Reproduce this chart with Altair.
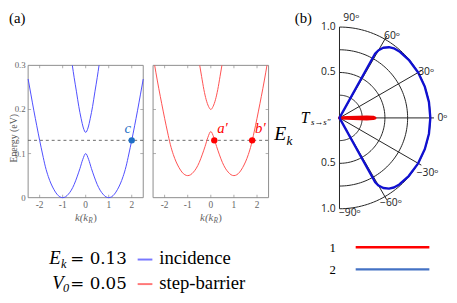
import altair as alt
import pandas as pd

# ---------------- data ----------------
k_band = [-2.5, -2.375, -2.25, -2.125, -2.0, -1.875, -1.75, -1.625, -1.5, -1.375, -1.25,
          -1.125, -1.0, -0.875, -0.75, -0.625, -0.5, -0.375, -0.25, -0.125, 0.0,
          0.125, 0.25, 0.375, 0.5, 0.625, 0.75, 0.875, 1.0, 1.125, 1.25, 1.375, 1.5,
          1.625, 1.75, 1.875, 2.0, 2.125, 2.25, 2.375, 2.5]
inc_lower = [0.269, 0.233, 0.197, 0.163, 0.130, 0.099, 0.070, 0.048, 0.031, 0.018, 0.008,
             0.002, 0.000, 0.002, 0.008, 0.017, 0.030, 0.047, 0.066, 0.087, 0.100,
             0.087, 0.066, 0.047, 0.030, 0.017, 0.008, 0.002, 0.000, 0.002, 0.008, 0.018,
             0.031, 0.048, 0.070, 0.099, 0.130, 0.163, 0.197, 0.233, 0.269]
k_inc_upper = [-0.58, -0.5, -0.4, -0.3, -0.2, -0.1, 0.0, 0.1, 0.2, 0.3, 0.4, 0.5, 0.58]
inc_upper = [0.300, 0.272, 0.240, 0.207, 0.180, 0.158, 0.148, 0.158, 0.180, 0.207, 0.240, 0.272, 0.300]

k_bar_lower = [-2.43, -2.375, -2.25, -2.125, -2.0, -1.875, -1.75, -1.625, -1.5, -1.375, -1.25,
               -1.125, -1.0, -0.875, -0.75, -0.625, -0.5, -0.375, -0.25, -0.125, 0.0,
               0.125, 0.25, 0.375, 0.5, 0.625, 0.75, 0.875, 1.0, 1.125, 1.25, 1.375, 1.5,
               1.625, 1.75, 1.875, 2.0, 2.125, 2.25, 2.375, 2.43]
bar_lower = [0.300, 0.283, 0.247, 0.213, 0.180, 0.149, 0.120, 0.098, 0.081, 0.068, 0.058,
             0.052, 0.050, 0.052, 0.058, 0.067, 0.080, 0.097, 0.116, 0.137, 0.150,
             0.137, 0.116, 0.097, 0.080, 0.067, 0.058, 0.052, 0.050, 0.052, 0.058, 0.068,
             0.081, 0.098, 0.120, 0.149, 0.180, 0.213, 0.247, 0.283, 0.300]
k_bar_upper = [-0.48, -0.4, -0.3, -0.2, -0.1, 0.0, 0.1, 0.2, 0.3, 0.4, 0.48]
bar_upper = [0.300, 0.275, 0.245, 0.222, 0.207, 0.200, 0.207, 0.222, 0.245, 0.275, 0.300]

E_k = 0.13
k_domain = [-2.5, 2.5]
e_domain = [0.0, 0.3]
k_ticks = [-2, -1, 0, 1, 2]
k_tick_labels = ["-2", "-1", "0", "1", "2"]
e_ticks = [0.0, 0.1, 0.2, 0.3]
e_tick_labels = ["0", "0.1", "0.2", "0.3"]
c_state_k = [2.0]
c_state_label = ["c"]
ab_states_k = [0.15, 1.79]
ab_state_labels = ["a\u2032", "b\u2032"]

# polar transmission
theta_1 = [-3, -2, -1, 0, 1, 2, 3]
r_1 = [0.0, 0.30, 0.37, 0.39, 0.37, 0.30, 0.0]
theta_2 = [-61.5, -61, -60, -58, -55, -52, -48, -40, -30, -20, -10, 0,
           10, 20, 30, 40, 48, 52, 55, 58, 60, 61, 61.5]
r_2 = [0.0, 0.81, 0.86, 0.91, 0.95, 0.972, 0.985, 0.995, 1.0, 1.0, 1.0, 1.0,
       1.0, 1.0, 1.0, 0.995, 0.985, 0.972, 0.95, 0.91, 0.86, 0.81, 0.0]
rings = [0.25, 0.5, 0.75, 1.0]
spoke_angles = [-60, -30, 0, 30, 60]
angle_label_vals = [90, 60, 30, 0, -30, -60, -90]
angle_label_txt = ["90\u1d52", "60\u1d52", "30\u1d52", "0\u1d52", "\u221230\u1d52", "\u221260\u1d52", "\u221290\u1d52"]
radial_label_pos = [1.0, 0.5, -0.5, -1.0]
radial_label_txt = ["1.0", "0.5", "0.5", "1.0"]

# ---------------- layout (plot pixel coordinates) ----------------
X1 = [20.5, 137.7]
X2 = [147.7, 265.3]
YR = [190.5, 55.8]
PXR = [337.5, 430.0]
PYR = [201.8, 16.8]

FRAME = "#8c8c8c"
TICKTXT = "#666666"
SERIF = "Liberation Serif, Times New Roman, Times, DejaVu Serif, serif"
MSERIF = "DejaVu Serif, Liberation Serif, serif"
SANS = "Open Sans, Noto Sans, DejaVu Sans, sans-serif"


def sc(dom, rng):
    return alt.Scale(domain=dom, range=rng, zero=False, nice=False)


def txt(s, x, y, size, font=SERIF, style="normal", color="black", align="left",
        baseline="alphabetic", angle=0):
    return alt.Chart(pd.DataFrame({"s": [s]})).mark_text(
        font=font, fontSize=size, fontStyle=style, color=color, align=align,
        baseline=baseline, angle=angle
    ).encode(x=alt.value(x), y=alt.value(y), text="s:N")


layers = []


def panel(xr, show_y_labels):
    sx = sc(k_domain, xr)
    sy = sc(e_domain, YR)
    out = []
    frame = pd.DataFrame({"k0": [k_domain[0]], "k1": [k_domain[1]],
                          "e0": [e_domain[0]], "e1": [e_domain[1]]})
    out.append(alt.Chart(frame).mark_rect(filled=False, stroke=FRAME, strokeWidth=1).encode(
        x=alt.X("k0:Q", scale=sx, axis=None), x2="k1:Q",
        y=alt.Y("e0:Q", scale=sy, axis=None), y2="e1:Q"))
    kt = pd.DataFrame({"k": k_ticks, "lab": k_tick_labels})
    et = pd.DataFrame({"e": e_ticks[1:-1]})
    for ev, off in [(e_domain[0], -1.5), (e_domain[1], 1.5)]:
        out.append(alt.Chart(kt).mark_tick(orient="vertical", size=3, thickness=1,
                                           color=FRAME, yOffset=off).encode(
            x=alt.X("k:Q", scale=sx, axis=None),
            y=alt.YDatum(ev, scale=sy, axis=None)))
    for kv, off in [(k_domain[0], 1.5), (k_domain[1], -1.5)]:
        out.append(alt.Chart(et).mark_tick(orient="horizontal", size=3, thickness=1,
                                           color=FRAME, xOffset=off).encode(
            y=alt.Y("e:Q", scale=sy, axis=None),
            x=alt.XDatum(kv, scale=sx, axis=None)))
    out.append(alt.Chart(kt).mark_text(font=SERIF, fontSize=9.5, color=TICKTXT,
                                       baseline="middle").encode(
        x=alt.X("k:Q", scale=sx, axis=None), y=alt.value(198), text="lab:N"))
    if show_y_labels:
        el = pd.DataFrame({"e": e_ticks, "lab": e_tick_labels})
        out.append(alt.Chart(el).mark_text(font=SERIF, fontSize=9, color=TICKTXT,
                                           align="right", baseline="middle").encode(
            y=alt.Y("e:Q", scale=sy, axis=None), x=alt.value(xr[0] - 2.5), text="lab:N"))
    dash = pd.DataFrame({"k": k_domain, "E": [E_k, E_k]})
    out.append(alt.Chart(dash).mark_line(color="#444444", strokeWidth=0.8,
                                         strokeDash=[3, 3]).encode(
        x=alt.X("k:Q", scale=sx, axis=None), y=alt.Y("E:Q", scale=sy, axis=None)))
    cx = (xr[0] + xr[1]) / 2
    out.append(txt("k(k", cx + 2.5, 214, 11, style="italic", color=TICKTXT, align="right"))
    out.append(txt("R", cx + 2.7, 216.5, 7.5, style="italic", color=TICKTXT))
    out.append(txt(")", cx + 7.6, 214, 11, color=TICKTXT))
    return out, sx, sy


# ---- panel 1: incidence ----
p1, sx1, sy1 = panel(X1, True)
layers += p1
for kk, ee in [(k_band, inc_lower), (k_inc_upper, inc_upper)]:
    layers.append(alt.Chart(pd.DataFrame({"k": kk, "E": ee})).mark_line(
        color="#4d4dff", strokeWidth=1, interpolate="monotone").encode(
        x=alt.X("k:Q", scale=sx1, axis=None), y=alt.Y("E:Q", scale=sy1, axis=None)))
cdf = pd.DataFrame({"k": c_state_k, "E": [E_k], "lab": c_state_label})
layers.append(alt.Chart(cdf).mark_circle(size=42, color="#1f6fc5", opacity=1).encode(
    x=alt.X("k:Q", scale=sx1, axis=None), y=alt.Y("E:Q", scale=sy1, axis=None)))
layers.append(alt.Chart(cdf).mark_text(font=SERIF, fontStyle="italic", fontSize=15,
                                       color="#1f6fc5", dx=-4, dy=-12).encode(
    x=alt.X("k:Q", scale=sx1, axis=None), y=alt.Y("E:Q", scale=sy1, axis=None), text="lab:N"))

# ---- panel 2: step-barrier ----
p2, sx2, sy2 = panel(X2, False)
layers += p2
for kk, ee in [(k_bar_lower, bar_lower), (k_bar_upper, bar_upper)]:
    layers.append(alt.Chart(pd.DataFrame({"k": kk, "E": ee})).mark_line(
        color="#ff5050", strokeWidth=1, interpolate="monotone").encode(
        x=alt.X("k:Q", scale=sx2, axis=None), y=alt.Y("E:Q", scale=sy2, axis=None)))
abdf = pd.DataFrame({"k": ab_states_k, "E": [E_k, E_k], "lab": ab_state_labels})
layers.append(alt.Chart(abdf).mark_circle(size=42, color="#ff0000", opacity=1).encode(
    x=alt.X("k:Q", scale=sx2, axis=None), y=alt.Y("E:Q", scale=sy2, axis=None)))
layers.append(alt.Chart(abdf).mark_text(font=SERIF, fontStyle="italic", fontSize=15,
                                        color="#ff0000", dx=3, dy=-12, align="left").encode(
    x=alt.X("k:Q", scale=sx2, axis=None), y=alt.Y("E:Q", scale=sy2, axis=None), text="lab:N"))

# ---- polar panel ----
psx = sc([0, 1], PXR)
psy = sc([-1, 1], PYR)

for rr in rings:
    layers.append(alt.Chart(alt.sequence(-90, 90.5, 2, as_="t")).transform_calculate(
        px=f"{rr}*cos(datum.t*PI/180)", py=f"{rr}*sin(datum.t*PI/180)"
    ).mark_line(color="#222222", strokeWidth=1).encode(
        x=alt.X("px:Q", scale=psx, axis=None), y=alt.Y("py:Q", scale=psy, axis=None),
        order="t:Q"))
layers.append(alt.Chart(pd.DataFrame({"a": spoke_angles})).transform_calculate(
    x0="0", y0="0", x1="1.04*cos(datum.a*PI/180)", y1="1.04*sin(datum.a*PI/180)"
).mark_rule(color="#222222", strokeWidth=1).encode(
    x=alt.X("x0:Q", scale=psx, axis=None), y=alt.Y("y0:Q", scale=psy, axis=None),
    x2="x1:Q", y2="y1:Q"))
layers.append(alt.Chart(pd.DataFrame({"x": [0.0], "y0": [-1.0], "y1": [1.0]})).mark_rule(
    color="#222222", strokeWidth=1).encode(
    x=alt.X("x:Q", scale=psx, axis=None), y=alt.Y("y0:Q", scale=psy, axis=None), y2="y1:Q"))

for th, rv, col, w in [(theta_1, r_1, "#ee0000", 3.2), (theta_2, r_2, "#1010d0", 2.4)]:
    d = pd.DataFrame({"th": th, "r": rv, "i": list(range(len(th)))})
    layers.append(alt.Chart(d).transform_calculate(
        px="datum.r*cos(datum.th*PI/180)", py="datum.r*sin(datum.th*PI/180)"
    ).mark_line(color=col, strokeWidth=w, strokeJoin="round", strokeCap="round").encode(
        x=alt.X("px:Q", scale=psx, axis=None), y=alt.Y("py:Q", scale=psy, axis=None),
        order="i:Q"))

offs = {90: (12, 0), 60: (2.5, 5), 30: (0, 4.5), 0: (3, 0.5), -30: (1.5, 5),
        -60: (1.5, -1), -90: (10.5, -5)}
adf = pd.DataFrame({"a": angle_label_vals, "lab": angle_label_txt})
for a in angle_label_vals:
    dx, dy = offs[a]
    layers.append(alt.Chart(adf).transform_filter(f"datum.a == {a}").transform_calculate(
        px="1.1*cos(datum.a*PI/180)", py="1.1*sin(datum.a*PI/180)"
    ).mark_text(font=SANS, fontSize=10.5, color="#222222", dx=dx, dy=dy,
                baseline="middle").encode(
        x=alt.X("px:Q", scale=psx, axis=None), y=alt.Y("py:Q", scale=psy, axis=None),
        text="lab:N"))
rdf = pd.DataFrame({"x": [0.0] * 4, "y": radial_label_pos, "lab": radial_label_txt})
layers.append(alt.Chart(rdf).mark_text(font=SANS, fontSize=10.5, color="#222222",
                                       align="right", baseline="middle", dx=-4).encode(
    x=alt.X("x:Q", scale=psx, axis=None), y=alt.Y("y:Q", scale=psy, axis=None), text="lab:N"))

# ---- annotations ----
layers.append(txt("(a)", 1, 12.5, 15))
layers.append(txt("(b)", 292, 12.5, 15))
layers.append(txt("Energy (eV)", 9.5, 130, 10, color="#555555", align="center",
                  baseline="alphabetic", angle=270))
layers.append(txt("E", 271, 132, 20, style="italic"))
layers.append(txt("k", 283.5, 137, 13.5, style="italic"))
layers.append(txt("T", 298, 114, 16, style="italic"))
layers.append(txt("s\u2192s\u2033", 308.5, 117, 9, style="italic"))

# bottom-left text legend
layers.append(txt("E", 42, 258, 19, style="italic"))
layers.append(txt("k", 54, 262, 12.5, style="italic"))
layers.append(txt("= 0.13", 63.5, 258, 17, font=MSERIF))
layers.append(txt("incidence", 154, 258, 19))
layers.append(txt("V", 45, 283, 19, style="italic"))
layers.append(txt("0", 56, 287, 12.5, style="italic"))
layers.append(txt("= 0.05", 63.5, 283, 17, font=MSERIF))
layers.append(txt("step-barrier", 154, 283, 19))
sw = pd.DataFrame({"d": [0]})
layers.append(alt.Chart(sw).mark_rule(color="#7878ff", strokeWidth=2).encode(
    x=alt.value(132), x2=alt.value(147), y=alt.value(253.5)))
layers.append(alt.Chart(sw).mark_rule(color="#ff7878", strokeWidth=2).encode(
    x=alt.value(132), x2=alt.value(147), y=alt.value(278.5)))

# bottom-right legend
layers.append(txt("1", 330.5, 242, 13, align="center", baseline="middle"))
layers.append(txt("2", 330.5, 264, 13, align="center", baseline="middle"))
layers.append(alt.Chart(sw).mark_rule(color="#ff0000", strokeWidth=2.5).encode(
    x=alt.value(354), x2=alt.value(429), y=alt.value(241)))
layers.append(alt.Chart(sw).mark_rule(color="#4472c4", strokeWidth=2.5).encode(
    x=alt.value(354), x2=alt.value(429), y=alt.value(263.5)))

chart = alt.layer(*layers).resolve_scale(x="independent", y="independent").properties(
    width=449, height=287, padding=0, autosize="none"
).configure_view(stroke=None)

chart.save("out.html", embed_options={"renderer": "svg", "actions": False})
